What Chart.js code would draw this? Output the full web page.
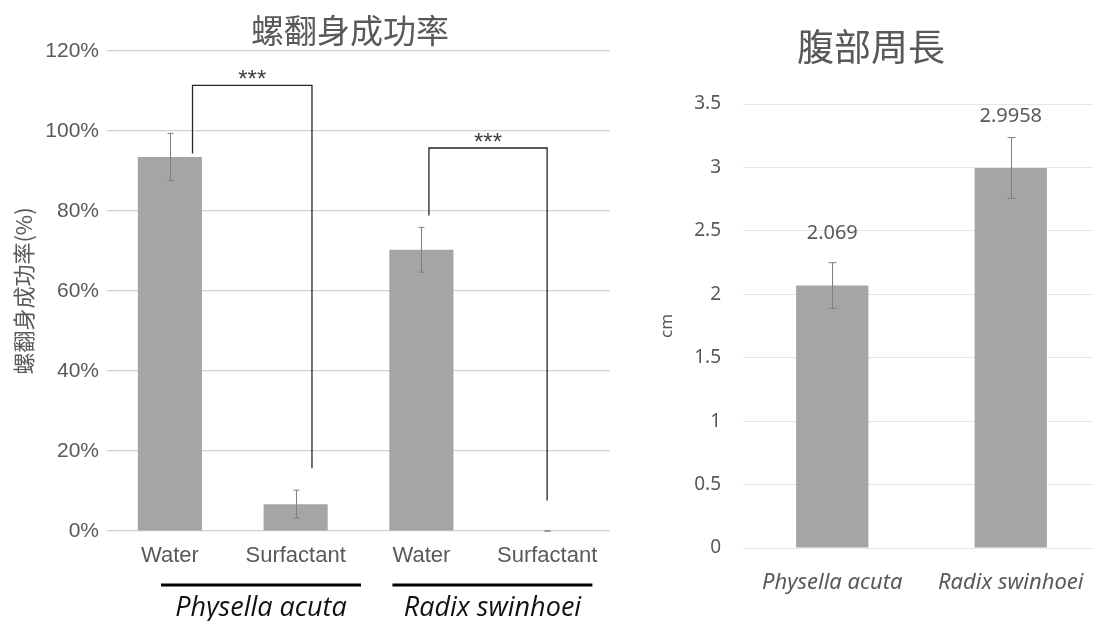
<!DOCTYPE html>
<html>
<head>
<meta charset="utf-8">
<script src="https://cdn.jsdelivr.net/npm/chart.js@4"></script>
<style>
    html, body { margin: 0; padding: 0; background: #fff; overflow: hidden; width: 1093px; height: 621px; }
    #esq { position: absolute; left: 0; top: 0; width: 620px; height: 621px; }
    #dir { position: absolute; left: 620px; top: 0; width: 480px; height: 621px; }
</style>
</head>
<body>
<div id="esq"><canvas id="graficoSucesso" width="620" height="621"></canvas></div>
<div id="dir"><canvas id="graficoPerimetro" width="480" height="621"></canvas></div>
<script>
// dados do gráfico da esquerda (sucesso ao desvirar, em %)
const categorias = ['Water', 'Surfactant', 'Water', 'Surfactant'];
const sucesso = [93.5, 6.7, 70.3, 0];
const sucessoErro = [5.9, 3.5, 5.6, 0];
const especies = ['Physella acuta', 'Radix swinhoei'];
const ticksSucesso = [0, 20, 40, 60, 80, 100, 120];

// dados do gráfico da direita (perímetro abdominal, cm)
const especiesCm = ['Physella acuta', 'Radix swinhoei'];
const perimetro = [2.069, 2.9958];
const perimetroErro = [0.18, 0.24];
const ticksPerimetro = [0, 0.5, 1, 1.5, 2, 2.5, 3, 3.5];

const CINZA_TXT = '#595959';
const CINZA_BARRA = '#a5a5a5';
const FONTE_CJK = '"Noto Sans CJK TC", "Noto Sans CJK SC", sans-serif';

// colchetes de significância: índices das barras, altura e pés (em %)
const colchetes = [
    { de: 0, ate: 1, dxDe: 0.18, dxAte: 0.13, topo: 111.4, peDe: 94.4, peAte: 15.7 },
    { de: 2, ate: 3, dxDe: 0.06, dxAte: 0.0, topo: 95.75, peDe: 78.9, peAte: 7.6 }
];
// linhas que agrupam as barras por espécie (em unidades de categoria)
const grupos = [
    { ini: -0.07, fim: 1.52 },
    { ini: 1.77, fim: 3.36 }
];

function desenharErros(chart, erros, capa, cor) {
    const ctx = chart.ctx;
    const meta = chart.getDatasetMeta(0);
    const y = chart.scales.y;
    const valores = chart.data.datasets[0].data;
    ctx.save();
    ctx.strokeStyle = cor;
    ctx.lineWidth = 1;
    meta.data.forEach(function (barra, i) {
        const x = Math.round(barra.x) + 0.5;
        const y1 = y.getPixelForValue(valores[i] + erros[i]);
        const y2 = y.getPixelForValue(valores[i] - erros[i]);
        ctx.beginPath();
        ctx.moveTo(x, y1); ctx.lineTo(x, y2);
        ctx.moveTo(x - capa, y1); ctx.lineTo(x + capa, y1);
        ctx.moveTo(x - capa, y2); ctx.lineTo(x + capa, y2);
        ctx.stroke();
    });
    ctx.restore();
}

// título desenhado à mão pra poder deslocar do centro do canvas
function titulo(ctx, texto, x, y, tamanho) {
    ctx.save();
    ctx.fillStyle = CINZA_TXT;
    ctx.font = tamanho + 'px ' + FONTE_CJK;
    ctx.textAlign = 'center';
    ctx.textBaseline = 'middle';
    ctx.fillText(texto, x, y);
    ctx.restore();
}

const extrasSucesso = {
    id: 'extrasSucesso',
    afterDatasetsDraw(chart) {
        const ctx = chart.ctx;
        const x = chart.scales.x;
        const y = chart.scales.y;
        desenharErros(chart, sucessoErro, 3, '#7f7f7f');

        ctx.save();
        ctx.strokeStyle = '#262626';
        ctx.lineWidth = 1.3;
        ctx.fillStyle = '#404040';
        ctx.font = '24px "Liberation Sans", Arial, sans-serif';
        ctx.textAlign = 'center';
        ctx.textBaseline = 'alphabetic';
        colchetes.forEach(function (c) {
            const xa = x.getPixelForValue(c.de + c.dxDe);
            const xb = x.getPixelForValue(c.ate + c.dxAte);
            const yt = y.getPixelForValue(c.topo);
            ctx.beginPath();
            ctx.moveTo(xa, y.getPixelForValue(c.peDe));
            ctx.lineTo(xa, yt);
            ctx.lineTo(xb, yt);
            ctx.lineTo(xb, y.getPixelForValue(c.peAte));
            ctx.stroke();
            ctx.fillText('***', (xa + xb) / 2, yt + 2);
        });
        ctx.restore();
    },
    afterDraw(chart) {
        const ctx = chart.ctx;
        const x = chart.scales.x;
        const base = chart.chartArea.bottom;
        titulo(ctx, '螺翻身成功率', 350, 30, 33);
        ctx.save();
        ctx.strokeStyle = '#000';
        ctx.lineWidth = 3;
        ctx.fillStyle = '#111';
        ctx.font = 'italic 27px "Open Sans", "Noto Sans", sans-serif';
        ctx.textAlign = 'center';
        ctx.textBaseline = 'middle';
        grupos.forEach(function (g, i) {
            const xa = x.getPixelForValue(g.ini);
            const xb = x.getPixelForValue(g.fim);
            ctx.beginPath();
            ctx.moveTo(xa, base + 54);
            ctx.lineTo(xb, base + 54);
            ctx.stroke();
            ctx.fillText(especies[i], (xa + xb) / 2, base + 77);
        });
        ctx.restore();
    }
};

const extrasPerimetro = {
    id: 'extrasPerimetro',
    afterDatasetsDraw(chart) {
        desenharErros(chart, perimetroErro, 4, '#7f7f7f');
        const ctx = chart.ctx;
        const meta = chart.getDatasetMeta(0);
        ctx.save();
        ctx.fillStyle = CINZA_TXT;
        ctx.font = '20px "Noto Sans", "Open Sans", sans-serif';
        ctx.textAlign = 'center';
        ctx.textBaseline = 'middle';
        meta.data.forEach(function (barra, i) {
            ctx.fillText(String(perimetro[i]), barra.x, barra.y - 52);
        });
        ctx.restore();
    },
    afterDraw(chart) {
        titulo(chart.ctx, '腹部周長', 251, 47, 37);
    }
};

function criarGraficoSucesso() {
    const ctx = document.getElementById('graficoSucesso').getContext('2d');
    new Chart(ctx, {
        type: 'bar',
        data: {
            labels: categorias,
            datasets: [{
                data: sucesso,
                backgroundColor: CINZA_BARRA,
                barPercentage: 0.51,
                categoryPercentage: 1
            }]
        },
        options: {
            responsive: false,
            animation: false,
            devicePixelRatio: 1,
            layout: { padding: { left: 0, right: 10, top: 51, bottom: 0 } },
            plugins: {
                legend: { display: false },
                tooltip: { enabled: false },
                title: { display: false }
            },
            scales: {
                x: {
                    afterFit: function (axis) { axis.height = 90; },
                    grid: { display: false },
                    border: { display: false },
                    ticks: {
                        color: CINZA_TXT,
                        padding: 4,
                        font: { family: '"Liberation Sans", Arial, sans-serif', size: 22 }
                    }
                },
                y: {
                    min: 0,
                    max: 120,
                    afterBuildTicks: function (axis) {
                        axis.ticks = ticksSucesso.map(function (v) { return { value: v }; });
                    },
                    afterFit: function (axis) { axis.width = 107; },
                    grid: { color: '#d0d0d0', lineWidth: 1.2, drawTicks: false },
                    border: { display: false },
                    ticks: {
                        color: CINZA_TXT,
                        padding: 8,
                        font: { family: '"Liberation Sans", Arial, sans-serif', size: 21 },
                        callback: function (v) { return v + '%'; }
                    },
                    title: {
                        display: true,
                        text: '螺翻身成功率(%)',
                        color: CINZA_TXT,
                        font: { family: FONTE_CJK, size: 22 },
                        padding: { top: 10, bottom: 0 }
                    }
                }
            }
        },
        plugins: [extrasSucesso]
    });
}

function criarGraficoPerimetro() {
    const ctx = document.getElementById('graficoPerimetro').getContext('2d');
    new Chart(ctx, {
        type: 'bar',
        data: {
            labels: especiesCm,
            datasets: [{
                data: perimetro,
                backgroundColor: CINZA_BARRA,
                barPercentage: 0.405,
                categoryPercentage: 1
            }]
        },
        options: {
            responsive: false,
            animation: false,
            devicePixelRatio: 1,
            layout: { padding: { left: 0, right: 0, top: 104, bottom: 0 } },
            plugins: {
                legend: { display: false },
                tooltip: { enabled: false },
                title: { display: false }
            },
            scales: {
                x: {
                    afterFit: function (axis) { axis.height = 73; },
                    grid: { display: false },
                    border: { display: false },
                    ticks: {
                        color: CINZA_TXT,
                        padding: 14,
                        font: { family: '"Noto Sans", "Open Sans", sans-serif', size: 22, style: 'italic' }
                    }
                },
                y: {
                    min: 0,
                    max: 3.5,
                    afterBuildTicks: function (axis) {
                        axis.ticks = ticksPerimetro.map(function (v) { return { value: v }; });
                    },
                    afterFit: function (axis) { axis.width = 123; },
                    grid: { color: '#e6e6e6', lineWidth: 1, drawTicks: false },
                    border: { display: false },
                    ticks: {
                        color: CINZA_TXT,
                        padding: 22,
                        font: { family: '"Noto Sans", "Open Sans", sans-serif', size: 19 },
                        callback: function (v) { return String(v); }
                    },
                    title: {
                        display: true,
                        text: 'cm',
                        color: CINZA_TXT,
                        font: { family: '"Noto Sans", sans-serif', size: 17 },
                        padding: { top: 37, bottom: 0 }
                    }
                }
            }
        },
        plugins: [extrasPerimetro]
    });
}

window.addEventListener('load', function () {
    criarGraficoSucesso();
    criarGraficoPerimetro();
});
</script>
</body>
</html>
